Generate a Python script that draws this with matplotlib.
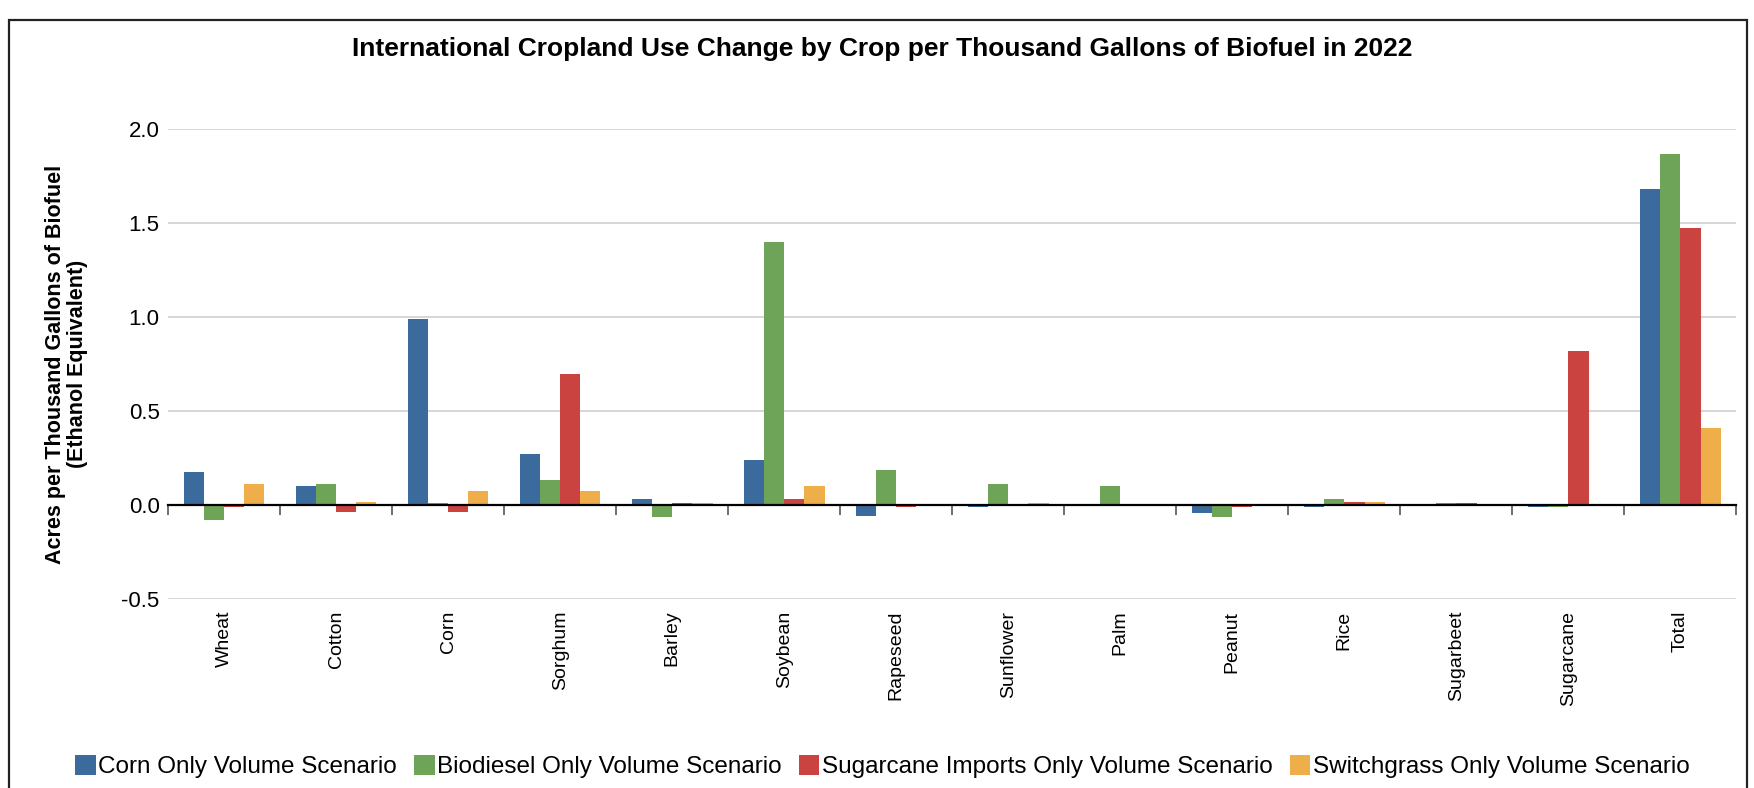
import matplotlib.pyplot as plt
import numpy as np
from matplotlib.patches import Rectangle
from matplotlib.transforms import blended_transform_factory

plt.rcParams['font.family'] = ['Liberation Sans', 'DejaVu Sans']

crops = ['Wheat', 'Cotton', 'Corn', 'Sorghum', 'Barley', 'Soybean', 'Rapeseed',
         'Sunflower', 'Palm', 'Peanut', 'Rice', 'Sugarbeet', 'Sugarcane', 'Total']

corn_only = [0.177, 0.103, 0.99, 0.273, 0.034, 0.241, -0.057,
             -0.012, 0.0, -0.041, -0.012, 0.0, -0.012, 1.683]
biodiesel_only = [-0.078, 0.113, 0.012, 0.135, -0.062, 1.40, 0.188,
                  0.113, 0.103, -0.062, 0.034, 0.012, -0.012, 1.869]
sugarcane_imports_only = [-0.012, -0.035, -0.035, 0.696, 0.012, 0.034, -0.012,
                          0.0, 0.0, -0.012, 0.018, 0.012, 0.821, 1.471]
switchgrass_only = [0.113, 0.018, 0.076, 0.076, 0.012, 0.103, 0.0,
                    0.012, 0.0, 0.0, 0.018, 0.0, 0.0, 0.411]

series = [
    ('Corn Only Volume Scenario', corn_only, '#3B6B9C'),
    ('Biodiesel Only Volume Scenario', biodiesel_only, '#6EA457'),
    ('Sugarcane Imports Only Volume Scenario', sugarcane_imports_only, '#CB4340'),
    ('Switchgrass Only Volume Scenario', switchgrass_only, '#EEAF4A'),
]

fig = plt.figure(figsize=(17.54, 7.88), dpi=100)
ax = fig.add_axes([0.0958, 0.2398, 0.8942, 0.5965])

x = np.arange(len(crops))
bar_w = 0.18
for i, (name, vals, color) in enumerate(series):
    ax.bar(x + (i - 1.5) * bar_w, vals, width=bar_w, color=color, label=name, zorder=3)

ax.set_xlim(-0.5, len(crops) - 0.5)
ax.set_ylim(-0.5, 2.0)
ax.set_yticks([-0.5, 0.0, 0.5, 1.0, 1.5, 2.0])
ax.set_yticklabels(['-0.5', '0.0', '0.5', '1.0', '1.5', '2.0'], fontsize=16)
ax.tick_params(axis='y', length=0, pad=6)
ax.grid(axis='y', color='#D0D0D0', linewidth=1.2, zorder=0)

# category axis sits on zero, labels stay at the bottom of the plot area
for side in ['top', 'right', 'left']:
    ax.spines[side].set_visible(False)
ax.spines['bottom'].set_position(('data', 0))
ax.spines['bottom'].set_linewidth(1.6)
ax.spines['bottom'].set_zorder(4)
ax.set_xticks(np.arange(len(crops) + 1) - 0.5)
ax.set_xticklabels([])
ax.tick_params(axis='x', direction='out', length=7, width=1.2, color='#555555')

trans = blended_transform_factory(ax.transData, ax.transAxes)
for xi, name in zip(x, crops):
    ax.text(xi, -0.025, name, rotation=90, ha='center', va='top',
            fontsize=14, transform=trans)

ax.set_ylabel('Acres per Thousand Gallons of Biofuel\n(Ethanol Equivalent)',
              fontsize=15.5, fontweight='bold', labelpad=24, linespacing=1.1)

fig.text(0.503, 0.938, 'International Cropland Use Change by Crop per Thousand Gallons of Biofuel in 2022',
         ha='center', va='center', fontsize=19, fontweight='bold')

fig.legend(loc='center', bbox_to_anchor=(0.503, 0.027), ncol=4, frameon=False,
           fontsize=17.5, handlelength=0.85, handleheight=0.85, handletextpad=0.1,
           columnspacing=0.7)

# outer frame around the chart
fig.patches.append(Rectangle((0.005, -0.05), 0.991, 1.025, transform=fig.transFigure,
                             fill=False, edgecolor='#222222', linewidth=1.6))

fig.savefig('out.png', dpi=100)
